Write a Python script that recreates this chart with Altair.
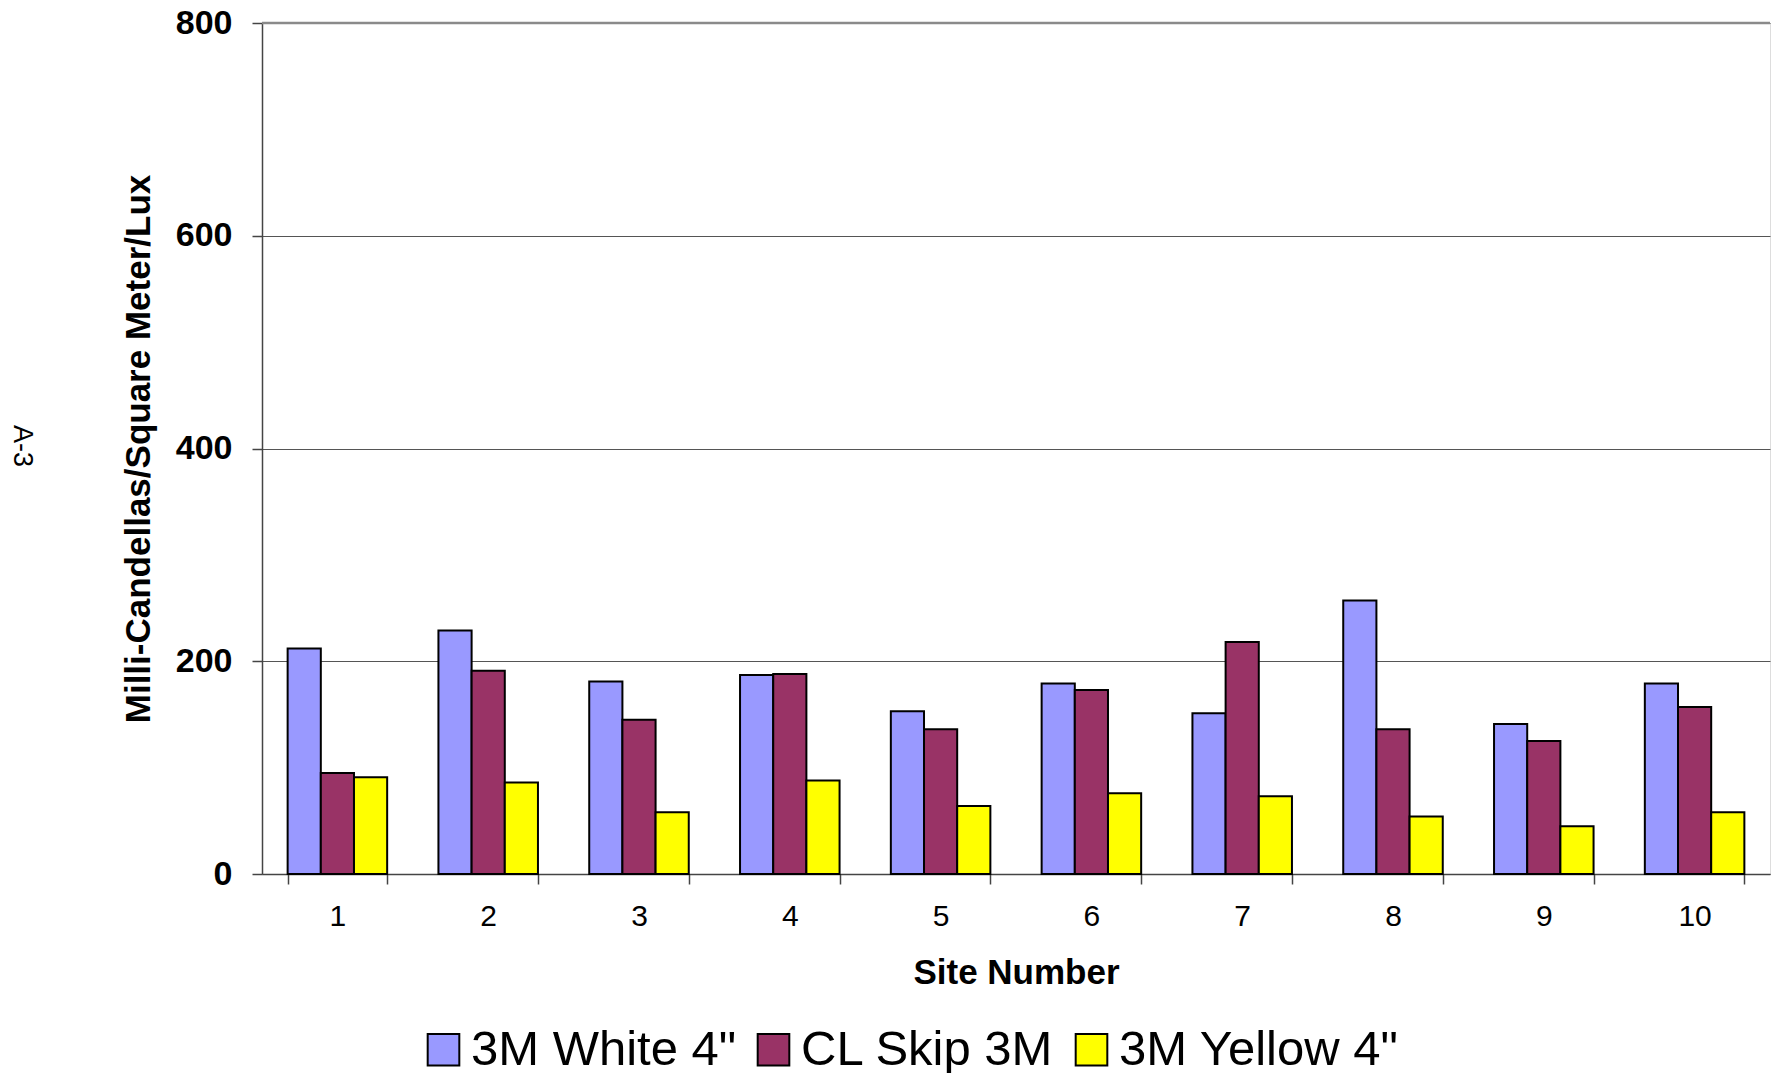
import altair as alt
import pandas as pd

# ---- data ----
sites = ["1", "2", "3", "4", "5", "6", "7", "8", "9", "10"]
series_names = ['3M White 4"', "CL Skip 3M", '3M Yellow 4"']
white = [212, 229, 181, 187, 153, 179, 151, 257, 141, 179]
cl_skip = [95, 191, 145, 188, 136, 173, 218, 136, 125, 157]
yellow = [91, 86, 58, 88, 64, 76, 73, 54, 45, 58]
colors = ["#9999FF", "#993366", "#FFFF00"]
y_ticks = [0, 200, 400, 600, 800]
page_label = ["A-3"]

rows = []
for name, vals in zip(series_names, [white, cl_skip, yellow]):
    for s, v in zip(sites, vals):
        rows.append({"site": s, "series": name, "value": v})
df = pd.DataFrame(rows)

FONT = "Liberation Sans"
W, H = 1508, 851

bars = alt.Chart(df).mark_bar(stroke="black", strokeWidth=2, opacity=1).encode(
    x=alt.X(
        "site:N",
        sort=sites,
        scale=alt.Scale(paddingInner=0.34, paddingOuter=0.17),
        axis=alt.Axis(
            title="Site Number",
            labelAngle=0,
            tickBand="extent",
            tickSize=10,
            tickColor="#444444",
            tickWidth=1.5,
            domainColor="#444444",
            domainWidth=1.5,
            labelPadding=32,
            labelBaseline="middle",
            labelFontSize=30,
            labelFont=FONT,
            labelColor="black",
            titleFont=FONT,
            titleFontSize=35,
            titleFontWeight="bold",
            titleColor="black",
            titleX=W / 2,
            titleY=98,
            titleAlign="center",
            titleBaseline="middle",
            grid=False,
        ),
    ),
    xOffset=alt.XOffset(
        "series:N", sort=series_names, scale=alt.Scale(paddingInner=0, paddingOuter=0)
    ),
    y=alt.Y(
        "value:Q",
        scale=alt.Scale(domain=[0, 800], nice=False),
        axis=alt.Axis(
            values=y_ticks,
            title="Milli-Candellas/Square Meter/Lux",
            tickSize=10,
            tickColor="#444444",
            tickWidth=1.5,
            domainColor="#444444",
            domainWidth=1.5,
            labelPadding=20,
            labelFontSize=34,
            labelFontWeight="bold",
            labelFont=FONT,
            labelColor="black",
            titleFont=FONT,
            titleFontSize=35,
            titleFontWeight="bold",
            titleColor="black",
            titleAngle=-90,
            titleX=-124,
            titleY=H / 2,
            titleAlign="center",
            titleBaseline="middle",
            grid=True,
            gridColor="#555555",
            gridWidth=1,
        ),
    ),
    color=alt.Color(
        "series:N",
        sort=series_names,
        scale=alt.Scale(domain=series_names, range=colors),
        legend=alt.Legend(
            title=None,
            orient="none",
            direction="horizontal",
            legendX=157,
            legendY=1002,
            symbolType="square",
            symbolSize=1000,
            symbolStrokeColor="black",
            symbolStrokeWidth=2,
            symbolOpacity=1,
            labelFont=FONT,
            labelFontSize=49,
            labelColor="black",
            labelOffset=3,
            columnPadding=12,
            padding=0,
            labelLimit=0,
        ),
    ),
)

top_line = alt.Chart(pd.DataFrame({"v": [y_ticks[-1]]})).mark_rule(
    color="#8a8a8a", strokeWidth=2.5
).encode(y="v:Q")

a3 = alt.Chart(pd.DataFrame({"t": page_label})).mark_text(
    angle=90, fontSize=27, font=FONT, color="black", align="center", baseline="middle"
).encode(text="t:N", x=alt.value(-240), y=alt.value(423))

chart = (
    alt.layer(bars, top_line, a3)
    .properties(
        width=W,
        height=H,
        autosize=alt.AutoSizeParams(type="none"),
        padding={"left": 254, "top": 15, "right": 1, "bottom": 199},
        background="white",
    )
    .configure_view(stroke=None)
    .configure(font=FONT)
)

chart.save("out.html", embed_options={"renderer": "svg", "actions": False})
